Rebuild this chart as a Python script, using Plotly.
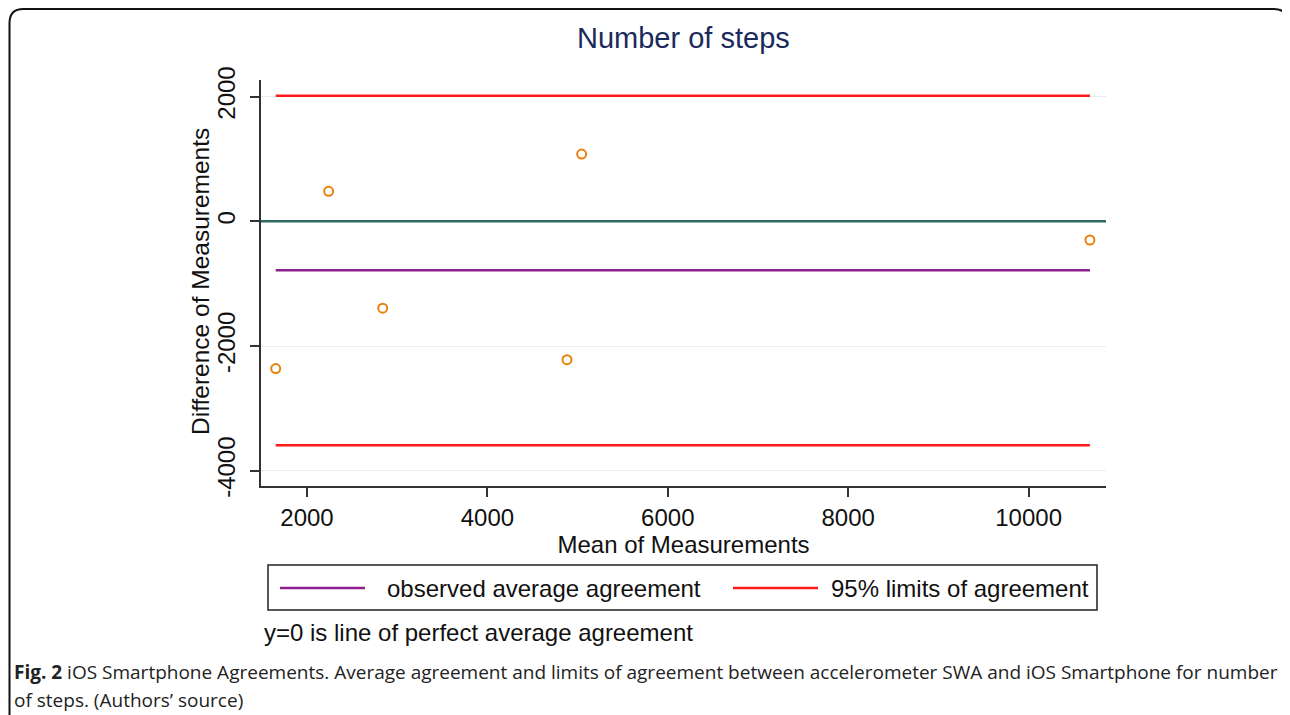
import plotly.graph_objects as go

# ---- data ----
mean_of_measurements = [1653, 2240, 2839, 4882, 5045, 10680]
difference_of_measurements = [-2362, 481, -1394, -2220, 1078, -300]
observed_average_agreement = -787
upper_limit_of_agreement = 2015
lower_limit_of_agreement = -3590
x_tick_values = [2000, 4000, 6000, 8000, 10000]
x_tick_labels = ["2000", "4000", "6000", "8000", "10000"]
y_tick_values = [-4000, -2000, 0, 2000]
y_tick_labels = ["-4000", "-2000", "0", "2000"]
x_range = [1490, 10858]
y_range = [-4245, 2266]

title_text = "Number of steps"
x_title = "Mean of Measurements"
y_title = "Difference of Measurements"
legend_labels = ["observed average agreement", "95% limits of agreement"]
note_text = "y=0 is line of perfect average agreement"
caption_line1 = ("<b>Fig. 2</b> iOS Smartphone Agreements. Average agreement and limits of agreement "
                 "between accelerometer SWA and iOS Smartphone for number")
caption_line2 = "of steps. (Authors’ source)"

# ---- layout geometry ----
# the page places the figure 8px in from the top-left corner
OFF = 8
W, H = 1290 - OFF, 715 - OFF
PLOT_X0, PLOT_X1, PLOT_Y0, PLOT_Y1 = 261, 1106, 80, 486   # page pixels
L, T = PLOT_X0 - OFF, PLOT_Y0 - OFF
R, B = W - (PLOT_X1 - OFF), H - (PLOT_Y1 - OFF)
PW, PH = PLOT_X1 - PLOT_X0, PLOT_Y1 - PLOT_Y0


def px(x):
    return (x - PLOT_X0) / PW


def py(y):
    return (PLOT_Y1 - y) / PH


FONT = "Liberation Sans, Arial, Helvetica, sans-serif"
CAP_FONT = "Open Sans, sans-serif"
RED = "#ff1a1a"
PURPLE = "#8e1f8e"
TEAL = "#2d6b64"
ORANGE = "#e8820c"
GRID = "#e6eef5"
AXIS = "#333333"

xmin, xmax = min(mean_of_measurements), max(mean_of_measurements)

fig = go.Figure()
# line of perfect agreement (y=0) across the whole plot
fig.add_trace(go.Scatter(x=x_range, y=[0, 0], mode="lines",
                         line=dict(color=TEAL, width=2.5), hoverinfo="skip"))
# limits of agreement
for yv in (upper_limit_of_agreement, lower_limit_of_agreement):
    fig.add_trace(go.Scatter(x=[xmin, xmax], y=[yv, yv], mode="lines",
                             line=dict(color=RED, width=2.5)))
# observed average agreement
fig.add_trace(go.Scatter(x=[xmin, xmax], y=[observed_average_agreement] * 2, mode="lines",
                         line=dict(color=PURPLE, width=2.5)))
# points
fig.add_trace(go.Scatter(x=mean_of_measurements, y=difference_of_measurements, mode="markers",
                         marker=dict(symbol="circle-open", size=9, color=ORANGE,
                                     line=dict(width=2, color=ORANGE))))

shapes = []
annotations = []

# outer rounded frame (open at the bottom)
r = 14
fx0, fx1, fy0, fy1 = 9.5, 1288, 9, 730
path = (f"M {px(fx0)},{py(fy1)} L {px(fx0)},{py(fy0 + r)} "
        f"Q {px(fx0)},{py(fy0)} {px(fx0 + r)},{py(fy0)} "
        f"L {px(fx1 - r)},{py(fy0)} Q {px(fx1)},{py(fy0)} {px(fx1)},{py(fy0 + r)} "
        f"L {px(fx1)},{py(fy1)}")
shapes.append(dict(type="path", path=path, xref="paper", yref="paper",
                   line=dict(color="#111111", width=2)))

# legend box
shapes.append(dict(type="rect", xref="paper", yref="paper",
                   x0=px(268), x1=px(1097), y0=py(610), y1=py(565),
                   line=dict(color="#222222", width=1.5)))
ly = 588
shapes.append(dict(type="line", xref="paper", yref="paper", x0=px(280), x1=px(365),
                   y0=py(ly), y1=py(ly), line=dict(color=PURPLE, width=2.5)))
shapes.append(dict(type="line", xref="paper", yref="paper", x0=px(733), x1=px(818),
                   y0=py(ly), y1=py(ly), line=dict(color=RED, width=2.5)))
annotations.append(dict(text=legend_labels[0], xref="paper", yref="paper", x=px(385), y=py(ly),
                        xanchor="left", yanchor="middle", showarrow=False,
                        font=dict(family=FONT, size=24, color="#111111")))
annotations.append(dict(text=legend_labels[1], xref="paper", yref="paper", x=px(1091), y=py(ly),
                        xanchor="right", yanchor="middle", showarrow=False,
                        font=dict(family=FONT, size=24, color="#111111")))
annotations.append(dict(text=note_text, xref="paper", yref="paper", x=px(262), y=py(632),
                        xanchor="left", yanchor="middle", showarrow=False,
                        font=dict(family=FONT, size=24, color="#111111")))
annotations.append(dict(text=caption_line1, xref="paper", yref="paper", x=px(12), y=py(672),
                        xanchor="left", yanchor="middle", showarrow=False,
                        font=dict(family=CAP_FONT, size=19.0, color="#222222")))
annotations.append(dict(text=caption_line2, xref="paper", yref="paper", x=px(12), y=py(700),
                        xanchor="left", yanchor="middle", showarrow=False,
                        font=dict(family=CAP_FONT, size=19.0, color="#222222")))
# title
annotations.append(dict(text=title_text, xref="paper", yref="paper", x=px(683), y=py(38),
                        xanchor="center", yanchor="middle", showarrow=False,
                        font=dict(family=FONT, size=29, color="#1b2a5c")))
# y-axis title
annotations.append(dict(text=y_title, xref="paper", yref="paper", x=px(200), y=py(282),
                        xanchor="center", yanchor="middle", showarrow=False, textangle=-90,
                        font=dict(family=FONT, size=24.5, color="#111111")))

fig.update_layout(
    width=W, height=H,
    margin=dict(l=L, r=R, t=T, b=B, pad=0),
    paper_bgcolor="white", plot_bgcolor="white",
    showlegend=False,
    font=dict(family=FONT, color="#111111"),
    shapes=shapes, annotations=annotations,
    xaxis=dict(range=x_range, tickvals=x_tick_values, ticktext=x_tick_labels,
               ticks="outside", ticklen=9,
               tickwidth=1.5, tickcolor=AXIS, showline=True, linecolor=AXIS, linewidth=1.5,
               showgrid=False, zeroline=False, tickfont=dict(size=24, family=FONT),
               title=dict(text=x_title, font=dict(size=24, family=FONT), standoff=4)),
    yaxis=dict(range=y_range, tickvals=y_tick_values, ticktext=y_tick_labels,
               ticks="outside", ticklen=9,
               tickwidth=1.5, tickcolor=AXIS, showline=True, linecolor=AXIS, linewidth=1.5,
               showgrid=True, gridcolor=GRID, gridwidth=1.2, zeroline=False,
               tickangle=-90, tickfont=dict(size=24, family=FONT), ticklabelstandoff=6),
)

fig.write_html("out.html")
